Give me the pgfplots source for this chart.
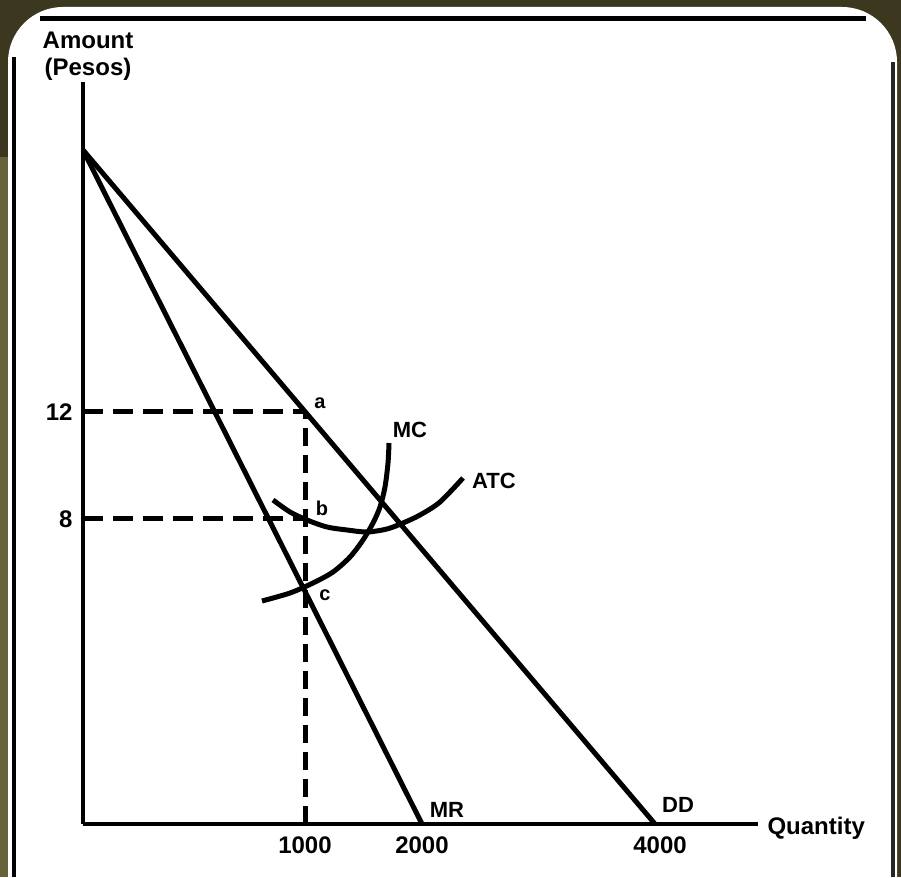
\documentclass[border=0pt]{standalone}
\usepackage{pgfplots}
\pgfplotsset{compat=1.18}
\usepackage{fontspec}
\setmainfont{Liberation Sans}
\definecolor{olivebg}{HTML}{3C381F}
\definecolor{olivelt}{HTML}{66633A}
\begin{document}
\begin{tikzpicture}[x=1pt,y=1pt]
\useasboundingbox (0,0) rectangle (901,877);
\fill[olivebg] (0,0) rectangle (901,877);
\fill[olivelt] (0,0) rectangle (8,720);
\fill[white, rounded corners=55pt] (8,-80) rectangle (897,870);
\draw[black, line width=4pt] (14,0) -- (14,820);
\draw[black, line width=5pt] (40,858) -- (866,858);
\draw[black!85, line width=4pt] (893,0) -- (893,815);
\begin{axis}[
  at={(83pt,53pt)}, anchor=origin,
  x=1pt, y=1pt,
  xmin=0, xmax=675, ymin=0, ymax=742,
  axis lines=left,
  axis line style={-, line width=4pt},
  clip=false,
  major tick length=0pt,
  xtick={222,339,577}, xticklabels={1000,2000,4000},
  ytick={305,412}, yticklabels={8,12},
  tick label style={font=\bfseries\fontsize{24}{26}\selectfont},
  xticklabel style={yshift=-9pt},
  yticklabel style={xshift=-7pt},
]
% demand
\addplot[black, line width=5pt] coordinates {(0,674) (572,0)};
% marginal revenue
\addplot[black, line width=5pt] coordinates {(0,674) (339,0)};
% dashed guides
\addplot[black, line width=5pt, dash pattern=on 20pt off 10pt] coordinates {(0,412) (222,412)};
\addplot[black, line width=5pt, dash pattern=on 20pt off 10pt] coordinates {(0,305) (222,305)};
\addplot[black, line width=5pt, dash pattern=on 18pt off 9pt] coordinates {(222,0) (222,412)};
% MC
\addplot[black, line width=5pt, smooth] coordinates {(179,223) (207,231) (230,241) (250,252) (267,267) (280,284) (290,301) (297,317) (302,337) (305,361) (306,381)};
% ATC
\addplot[black, line width=5pt, smooth] coordinates {(190,324) (207,312) (224,304) (244,297) (264,294) (284,292) (304,295) (320,301) (337,309) (357,322) (380,346)};
% labels
\node[font=\bfseries\fontsize{20}{22}\selectfont] at (axis cs:237,421) {a};
\node[font=\bfseries\fontsize{20}{22}\selectfont] at (axis cs:239,316) {b};
\node[font=\bfseries\fontsize{20}{22}\selectfont] at (axis cs:242,229) {c};
\node[font=\bfseries\fontsize{22}{24}\selectfont] at (axis cs:327,394) {MC};
\node[font=\bfseries\fontsize{22}{24}\selectfont] at (axis cs:411,343) {ATC};
\node[font=\bfseries\fontsize{22}{24}\selectfont] at (axis cs:364,14) {MR};
\node[font=\bfseries\fontsize{22}{24}\selectfont] at (axis cs:595,19) {DD};
\node[font=\bfseries\fontsize{24}{26}\selectfont, anchor=west] at (axis cs:681,-4) {Quantity};
\node[font=\bfseries\fontsize{24}{27}\selectfont, align=center, anchor=south] at (axis cs:5,740) {Amount\\(Pesos)};
\end{axis}
\end{tikzpicture}
\end{document}
